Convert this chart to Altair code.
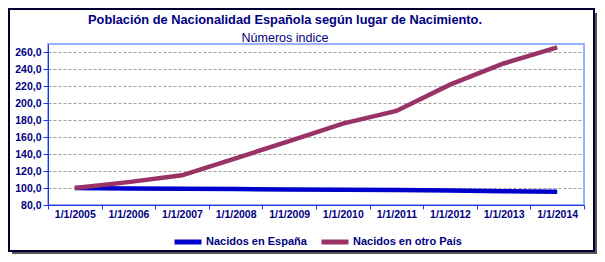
import altair as alt
import pandas as pd

years = ["1/1/2005", "1/1/2006", "1/1/2007", "1/1/2008", "1/1/2009",
         "1/1/2010", "1/1/2011", "1/1/2012", "1/1/2013", "1/1/2014"]
espana = [100.0, 99.6, 99.2, 98.8, 98.4, 98.0, 97.6, 97.0, 96.3, 95.5]
otro = [100.0, 107.0, 115.0, 135.0, 155.5, 176.0, 191.0, 222.0, 247.0, 266.0]
series_names = ["Nacidos en España", "Nacidos en otro País"]
colors = ["#0000cc", "#993366"]
y_ticks = [80, 100, 120, 140, 160, 180, 200, 220, 240, 260]
title_text = "Población de Nacionalidad Española según lugar de Nacimiento."
subtitle_text = "Números indice"

rows = []
for f, a, b in zip(years, espana, otro):
    rows.append({"fecha": f, "serie": series_names[0], "valor": a})
    rows.append({"fecha": f, "serie": series_names[1], "valor": b})
df = pd.DataFrame(rows)

W, H = 536, 161
NAVY = "#000080"
FONT = "Liberation Sans"

one = pd.DataFrame({"k": [0]})

shadow_r = alt.Chart(one).mark_rect(fill="#555555").encode(
    x=alt.value(546), x2=alt.value(549), y=alt.value(-31), y2=alt.value(210))
shadow_b = alt.Chart(one).mark_rect(fill="#555555").encode(
    x=alt.value(-36), x2=alt.value(549), y=alt.value(207), y2=alt.value(210))
frame = alt.Chart(one).mark_rect(fill="transparent", stroke="#000033", strokeWidth=2).encode(
    x=alt.value(-39), x2=alt.value(546), y=alt.value(-35), y2=alt.value(207))

title = alt.Chart(one).mark_text(
    text=title_text, font=FONT, fontSize=12.8, fontWeight="bold", color=NAVY,
    align="center", baseline="alphabetic").encode(x=alt.value(237), y=alt.value(-20))
subtitle = alt.Chart(one).mark_text(
    text=subtitle_text, font=FONT, fontSize=12.5, color=NAVY,
    align="center", baseline="alphabetic").encode(x=alt.value(237), y=alt.value(-2.5))

lines = alt.Chart(df).mark_line(strokeWidth=4.5).encode(
    x=alt.X("fecha:N", sort=years, bandPosition=0.5,
            scale=alt.Scale(type="band", paddingInner=0, paddingOuter=0),
            axis=alt.Axis(title=None, labelAngle=0, tickBand="extent",
                          domainColor="#2233ee", tickColor="#2233ee", tickSize=4,
                          labelFont=FONT, labelFontSize=10.5, labelFontWeight="bold",
                          labelColor=NAVY, labelPadding=0, grid=False)),
    y=alt.Y("valor:Q", scale=alt.Scale(domain=[80, 270], nice=False, zero=False),
            axis=alt.Axis(title=None, values=y_ticks,
                          labelExpr="replace(format(datum.value, '.1f'), '.', ',')",
                          domainColor="#2233ee", tickColor="#2233ee", tickSize=5,
                          labelFont=FONT, labelFontSize=10.5, labelFontWeight="bold",
                          labelColor=NAVY, labelPadding=2,
                          grid=True, gridColor="#a0a0a0", gridDash=[3, 2], gridWidth=1)),
    color=alt.Color("serie:N", sort=series_names,
                    scale=alt.Scale(domain=series_names, range=colors),
                    legend=alt.Legend(title=None, orient="none", legendX=124, legendY=182,
                                      direction="horizontal", symbolType="stroke",
                                      symbolSize=729, symbolStrokeWidth=5,
                                      labelFont=FONT, labelFontSize=11, labelFontWeight="bold",
                                      labelColor=NAVY, labelOffset=2, columnPadding=4)),
)

chart = alt.layer(shadow_r, shadow_b, frame, title, subtitle, lines).properties(
    width=W, height=H,
    autosize=alt.AutoSizeParams(type="none"),
    padding={"left": 40, "top": 36, "right": 13, "bottom": 49},
).configure(background="white").configure_view(stroke="#7799ff", strokeWidth=1.5)

chart.save("out.html", embed_options={"renderer": "svg", "actions": False})
